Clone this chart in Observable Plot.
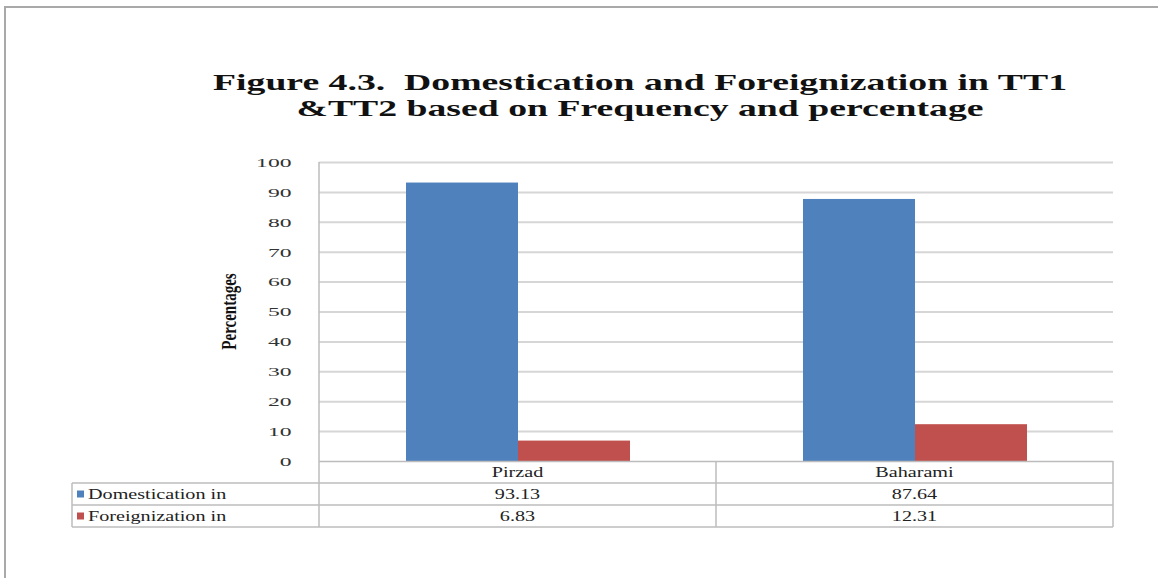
<!DOCTYPE html>
<html><head><meta charset="utf-8">
<script src="https://cdn.jsdelivr.net/npm/d3@7"></script>
<script src="https://cdn.jsdelivr.net/npm/@observablehq/plot@0.6"></script>
<style>
body{margin:0;background:#fff;}
#wrap{position:relative;width:1158px;height:578px;overflow:hidden;background:#fff;}
#frame{position:absolute;left:4px;top:6px;width:1170px;height:600px;border-top:2px solid #a9a9a9;border-left:2px solid #a9a9a9;pointer-events:none;}
svg{position:absolute;left:0;top:0;}
</style></head><body><div id="wrap"><div id="frame"></div></div>
<script>
const categories = ["Pirzad", "Baharami"];
const series = ["Domestication in", "Foreignization in"];
const domestication = [93.13, 87.64];
const foreignization = [6.83, 12.31];
const valueLabels = [["93.13", "87.64"], ["6.83", "12.31"]];
const colors = ["#4f81bd", "#c0504d"];
const yTicks = [0, 10, 20, 30, 40, 50, 60, 70, 80, 90, 100];
const titleLines = ["Figure 4.3.  Domestication and Foreignization in TT1", "&TT2 based on Frequency and percentage"];
const yLabel = "Percentages";

const data = categories.flatMap((c, i) => [
  {category: c, series: series[0], value: domestication[i]},
  {category: c, series: series[1], value: foreignization[i]}
]);

const chart = Plot.plot({
  width: 1158, height: 578,
  marginLeft: 318, marginRight: 45, marginTop: 162, marginBottom: 117,
  style: {background: "transparent", fontFamily: "Liberation Serif", fontSize: "13px", color: "#333"},
  fx: {domain: categories, padding: 0, axis: null},
  x: {domain: series, paddingInner: 0, paddingOuter: 0.76, axis: null},
  y: {domain: [0, 100], ticks: yTicks, tickFormat: d => String(d), label: null, tickSize: 0, tickPadding: 28},
  color: {domain: series, range: colors},
  marks: [
    Plot.ruleY(yTicks.filter(d => d > 0), {stroke: "#d6d6d6", strokeWidth: 2}),
    Plot.barY(data, {fx: "category", x: "series", y: "value", fill: "series"}),
    Plot.ruleY([0], {stroke: "#bcbcbc", strokeWidth: 1.5})
  ]
});
document.getElementById("wrap").appendChild(chart);

function stretch(sel, factor) {
  sel.each(function() {
    const L = this.getComputedTextLength();
    this.setAttribute("textLength", L * factor);
    this.setAttribute("lengthAdjust", "spacingAndGlyphs");
  });
}

const svg = d3.select(chart);
// y tick labels
const tickTexts = svg.selectAll("text");
tickTexts.attr("font-size", 13.5).attr("fill", "#333");
stretch(tickTexts, 1.75);

const fx = chart.scale("fx");
const ys = chart.scale("y");
const bw = fx.bandwidth;
const left = fx.apply(categories[0]);
const right = fx.apply(categories[categories.length - 1]) + bw;
const y0 = ys.apply(0);
const yTop = ys.apply(100);
const rowH = 22;
const tableLeft = 72;
const lineColor = "#bcbcbc";
const g = svg.append("g");

// axis line
g.append("line").attr("x1", left).attr("x2", left).attr("y1", yTop).attr("y2", y0 + 3 * rowH)
  .attr("stroke", lineColor).attr("stroke-width", 1.5);
// horizontal rows
[1, 2, 3].forEach(k => {
  g.append("line").attr("x1", tableLeft).attr("x2", right).attr("y1", y0 + k * rowH).attr("y2", y0 + k * rowH)
    .attr("stroke", lineColor).attr("stroke-width", 1.5);
});
// verticals
g.append("line").attr("x1", tableLeft).attr("x2", tableLeft).attr("y1", y0 + rowH).attr("y2", y0 + 3 * rowH)
  .attr("stroke", lineColor).attr("stroke-width", 1.5);
categories.forEach((c, i) => {
  const xr = fx.apply(c) + bw;
  g.append("line").attr("x1", xr).attr("x2", xr).attr("y1", y0).attr("y2", y0 + 3 * rowH)
    .attr("stroke", lineColor).attr("stroke-width", 1.5);
});

const tableTexts = [];
categories.forEach((c, i) => {
  const cx = fx.apply(c) + bw / 2;
  tableTexts.push(g.append("text").attr("x", cx).attr("y", y0 + rowH / 2).text(c));
  valueLabels.forEach((row, r) => {
    tableTexts.push(g.append("text").attr("x", cx).attr("y", y0 + (r + 1.5) * rowH).text(row[i]));
  });
});
tableTexts.forEach(t => t.attr("text-anchor", "middle").attr("dy", "0.35em")
  .attr("font-family", "Liberation Serif").attr("font-size", 15.5).attr("fill", "#222"));
tableTexts.forEach(t => stretch(t, 1.3));

series.forEach((s, r) => {
  const yy = y0 + (r + 1.5) * rowH;
  g.append("rect").attr("x", tableLeft + 5).attr("y", yy - 3.5).attr("width", 7).attr("height", 7).attr("fill", colors[r]);
  const t = g.append("text").attr("x", tableLeft + 16).attr("y", yy).attr("dy", "0.35em")
    .attr("text-anchor", "start")
    .attr("font-family", "Liberation Serif").attr("font-size", 15.5).attr("fill", "#222").text(s);
  stretch(t, 1.3);
});

// y label
g.append("text").attr("transform", `translate(229,${(yTop + y0) / 2}) rotate(-90) scale(1,1.35)`)
  .attr("text-anchor", "middle").attr("dy", "0.35em")
  .attr("font-family", "Liberation Serif").attr("font-weight", "bold").attr("font-size", 15).attr("fill", "#111")
  .text(yLabel);

// title
const titleX = 640;
const t1 = g.append("text").attr("x", titleX).attr("y", 82).text(titleLines[0]);
const t2 = g.append("text").attr("x", titleX).attr("y", 108).text(titleLines[1]);
[t1, t2].forEach(t => t.attr("text-anchor", "middle").attr("dy", "0.35em")
  .attr("font-family", "Liberation Serif").attr("font-weight", "bold").attr("font-size", 24).attr("fill", "#111"));
const f = 854 / t1.node().getComputedTextLength();
stretch(t1, f);
stretch(t2, f);
</script></body></html>
